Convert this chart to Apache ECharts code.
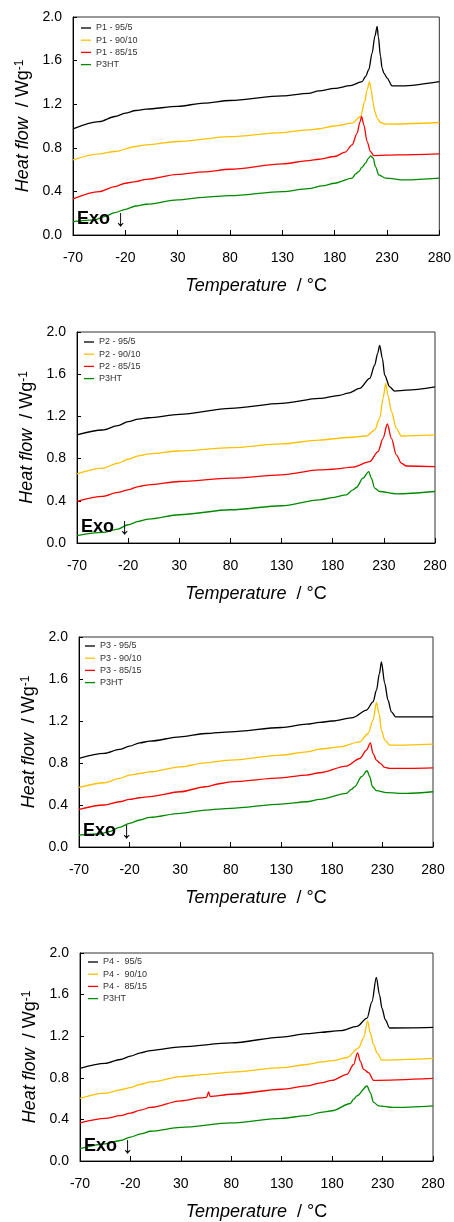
<!DOCTYPE html>
<html>
<head>
<meta charset="utf-8">
<script src="https://cdn.jsdelivr.net/npm/echarts@6/dist/echarts.min.js"></script>
<style>
  html, body { margin: 0; padding: 0; background: #fff; }
  #chart { width: 454px; height: 1222px; }
</style>
</head>
<body>
<div id="chart"></div>
<script>
// tick labels
const xTicks = [-70, -20, 30, 80, 130, 180, 230, 280]
const yTicks = [0, 0.4, 0.8, 1.2, 1.6, 2.0]

// DSC curves: [temperature °C, heat flow W/g]
const p1_95 = [[-70,0.974],[-45,1.04],[-30,1.087],[-20,1.118],[-10,1.142],[0,1.155],[30,1.18],[55,1.21],[80,1.234],[130,1.277],[155,1.30],[165,1.323],[180,1.345],[195,1.37],[206.3,1.408],[209.5,1.454],[212.6,1.516],[215.8,1.669],[218.4,1.822],[220.6,1.914],[221.7,1.822],[223.8,1.638],[225.3,1.531],[227,1.486],[230.1,1.44],[234.9,1.369],[244,1.369],[280,1.408]]
const p1_90 = [[-70,0.689],[-45,0.744],[-30,0.766],[-10,0.812],[0,0.827],[30,0.858],[80,0.903],[130,0.94],[155,0.965],[165,0.975],[180,1.0],[196.7,1.026],[204.7,1.087],[208.8,1.225],[211,1.332],[213.3,1.408],[214.9,1.332],[216.5,1.225],[218.4,1.133],[220.6,1.072],[223.8,1.032],[228.6,1.017],[280,1.032]]
const p1_85 = [[-70,0.331],[-45,0.398],[-30,0.444],[-20,0.475],[-10,0.49],[0,0.511],[30,0.557],[55,0.58],[80,0.603],[130,0.652],[155,0.683],[165,0.695],[180,0.72],[190,0.76],[196.7,0.827],[201.5,0.934],[204,1.03],[205.7,1.087],[207.9,1.01],[211,0.857],[214.3,0.765],[217.4,0.729],[240,0.735],[280,0.744]]
const p1_ht = [[-70,0.122],[-50,0.138],[-40,0.168],[-30,0.205],[-20,0.236],[-10,0.266],[0,0.282],[30,0.322],[55,0.346],[80,0.361],[130,0.398],[155,0.426],[168,0.45],[180,0.475],[196.7,0.521],[200,0.56],[203.1,0.582],[206,0.62],[209.5,0.659],[212,0.70],[214.3,0.726],[216.8,0.705],[219,0.628],[222.2,0.551],[228.6,0.521],[247.6,0.505],[280,0.521]]

const p2_95 = [[-70,1.024],[-45,1.071],[-30,1.112],[-20,1.15],[-10,1.175],[0,1.187],[30,1.219],[80,1.276],[130,1.323],[167,1.37],[186.8,1.40],[195,1.42],[206.4,1.465],[216.2,1.56],[221,1.685],[224,1.80],[225.9,1.874],[228.6,1.748],[230.8,1.59],[235.7,1.48],[240.6,1.44],[252,1.449],[280,1.48]]
const p2_90 = [[-70,0.655],[-45,0.709],[-30,0.756],[-20,0.794],[-10,0.825],[0,0.844],[30,0.872],[80,0.904],[130,0.939],[167,0.976],[195,1.0],[212.9,1.014],[221,1.07],[225.9,1.18],[229.2,1.37],[231.8,1.512],[234,1.40],[237.4,1.244],[242.2,1.087],[247.1,1.014],[280,1.024]]
const p2_85 = [[-70,0.394],[-45,0.441],[-30,0.479],[-20,0.504],[-10,0.535],[0,0.551],[30,0.583],[80,0.614],[130,0.646],[167,0.693],[180,0.699],[199.8,0.72],[216.2,0.772],[224.3,0.866],[229.2,0.992],[233.4,1.128],[237.4,0.992],[242.2,0.835],[247.1,0.756],[252,0.73],[280,0.724]]
const p2_ht = [[-70,0.069],[-45,0.10],[-30,0.132],[-20,0.173],[-10,0.205],[0,0.227],[30,0.268],[80,0.315],[130,0.353],[167,0.409],[180,0.43],[193.4,0.457],[199.8,0.504],[203.1,0.526],[209.6,0.614],[215.2,0.677],[217.8,0.614],[221,0.52],[225.9,0.488],[242.2,0.466],[280,0.488]]

const p3_95 = [[-70,0.843],[-45,0.891],[-30,0.929],[-20,0.96],[-10,0.992],[0,1.008],[30,1.049],[55,1.081],[80,1.097],[130,1.138],[155,1.17],[168,1.186],[180,1.20],[201,1.233],[214.2,1.303],[220.7,1.382],[224.1,1.493],[227,1.65],[229,1.762],[232.3,1.557],[235.5,1.398],[238.9,1.287],[243.1,1.239],[280,1.239]]
const p3_90 = [[-70,0.567],[-45,0.612],[-30,0.653],[-20,0.685],[-10,0.70],[0,0.716],[30,0.764],[55,0.802],[80,0.827],[130,0.875],[155,0.906],[168,0.932],[187.8,0.954],[207.6,1.001],[215.8,1.081],[220.7,1.208],[224.1,1.376],[226.7,1.271],[229,1.113],[232.3,1.018],[237.2,0.97],[280,0.98]]
const p3_85 = [[-70,0.358],[-45,0.40],[-30,0.431],[-20,0.453],[-10,0.469],[0,0.479],[30,0.526],[55,0.574],[70,0.605],[80,0.621],[130,0.659],[155,0.685],[168,0.707],[194.4,0.77],[207.6,0.843],[214.2,0.922],[218.1,0.992],[220.7,0.891],[224.1,0.827],[227.3,0.802],[232.3,0.758],[237.2,0.748],[280,0.754]]
const p3_ht = [[-70,0.114],[-50,0.124],[-40,0.146],[-30,0.187],[-20,0.225],[-10,0.257],[0,0.282],[30,0.32],[55,0.352],[80,0.368],[130,0.409],[155,0.431],[168,0.453],[194.4,0.51],[199.4,0.549],[202.6,0.574],[209.3,0.669],[214.8,0.726],[217.5,0.669],[220.1,0.574],[224.1,0.536],[234,0.517],[253.7,0.51],[280,0.526]]

const p4_95 = [[-70,0.89],[-45,0.938],[-30,0.976],[-20,1.008],[-10,1.04],[0,1.062],[30,1.097],[80,1.135],[130,1.192],[155,1.224],[168.6,1.237],[188.1,1.253],[204.6,1.294],[214.6,1.374],[219.5,1.532],[223.8,1.765],[227,1.596],[229.4,1.469],[232.7,1.358],[237,1.279],[280,1.285]]
const p4_90 = [[-70,0.601],[-45,0.652],[-30,0.684],[-20,0.706],[-10,0.738],[0,0.76],[30,0.811],[55,0.833],[80,0.855],[130,0.897],[155,0.928],[168.6,0.95],[180,0.965],[195,0.995],[206.2,1.088],[211.2,1.183],[215.2,1.348],[217.8,1.231],[221.1,1.119],[224.5,1.04],[229.4,0.97],[280,0.986]]
const p4_85 = [[-70,0.366],[-45,0.41],[-30,0.436],[-20,0.461],[-10,0.49],[0,0.515],[30,0.579],[50,0.607],[55.5,0.612],[57.5,0.665],[59,0.62],[80,0.642],[130,0.69],[155,0.722],[168.6,0.752],[180,0.775],[194.7,0.833],[201.3,0.928],[205.2,1.04],[207.9,0.96],[211.2,0.881],[216.1,0.849],[221.1,0.776],[280,0.795]]
const p4_ht = [[-70,0.118],[-45,0.165],[-30,0.197],[-20,0.229],[-10,0.261],[0,0.286],[30,0.324],[80,0.366],[130,0.41],[155,0.436],[168.6,0.468],[180,0.483],[198,0.553],[201.3,0.594],[204.6,0.626],[214.6,0.721],[217.8,0.658],[221.1,0.563],[226.1,0.531],[240.6,0.515],[280,0.531]]

const names = [
  ['P1 - 95/5', 'P1 - 90/10', 'P1 - 85/15', 'P3HT'],
  ['P2 - 95/5', 'P2 - 90/10', 'P2 - 85/15', 'P3HT'],
  ['P3 - 95/5', 'P3 - 90/10', 'P3 - 85/15', 'P3HT'],
  ['P4 -  95/5', 'P4 -  90/10', 'P4 -  85/15', 'P3HT']
]
const curves = [
  [p1_95, p1_90, p1_85, p1_ht],
  [p2_95, p2_90, p2_85, p2_ht],
  [p3_95, p3_90, p3_85, p3_ht],
  [p4_95, p4_90, p4_85, p4_ht]
]
const colors = ['#000000', '#FFC000', '#FF0000', '#008A00']

// plot boxes
const panels = [
  { left: 73, top: 17, width: 367, height: 218, legendLeft: 81, legendTop: 23 },
  { left: 77, top: 332, width: 358, height: 211, legendLeft: 84, legendTop: 337 },
  { left: 79, top: 637, width: 354, height: 210, legendLeft: 85, legendTop: 641 },
  { left: 80, top: 953, width: 353, height: 209, legendLeft: 88, legendTop: 957 }
]

const font = 'Liberation Sans, Arial, sans-serif'

let grid = [], xAxis = [], yAxis = [], legend = [], series = [], graphic = []

panels.forEach((p, i) => {
  grid.push({
    left: p.left, top: p.top, width: p.width, height: p.height,
    show: true, borderColor: '#333', borderWidth: 1, backgroundColor: 'transparent'
  })
  xAxis.push({
    gridIndex: i,
    type: 'value',
    min: -70,
    max: 280,
    axisLine: { show: true, onZero: false, lineStyle: { color: '#000', width: 1 } },
    axisTick: { show: true, inside: true, length: 5, customValues: xTicks, lineStyle: { color: '#000' } },
    axisLabel: { customValues: xTicks, margin: 16, fontSize: 14, color: '#000', fontFamily: font },
    splitLine: { show: false },
    name: '{i|Temperature}  / °C',
    nameLocation: 'middle',
    nameGap: 42,
    nameTextStyle: {
      fontSize: 18, color: '#000', fontFamily: font,
      rich: { i: { fontStyle: 'italic', fontSize: 18, fontFamily: font, color: '#000' } }
    }
  })
  yAxis.push({
    gridIndex: i,
    type: 'value',
    min: 0,
    max: 2,
    interval: 0.4,
    axisLine: { show: true, onZero: false, lineStyle: { color: '#000', width: 1 } },
    axisTick: { show: true, inside: true, length: 4, lineStyle: { color: '#000' } },
    axisLabel: { margin: 11, fontSize: 14, color: '#000', fontFamily: font, formatter: v => v.toFixed(1) },
    splitLine: { show: false },
    name: '{i|Heat flow}  / Wg{s|-1}',
    nameLocation: 'middle',
    nameGap: 40,
    nameTextStyle: {
      fontSize: 18, color: '#000', fontFamily: font,
      rich: {
        i: { fontStyle: 'italic', fontSize: 18, fontFamily: font, color: '#000' },
        s: { fontSize: 12, fontFamily: font, color: '#000', verticalAlign: 'top', padding: [0, 0, 6, 0] }
      }
    }
  })
  legend.push({
    data: names[i],
    orient: 'vertical',
    left: p.legendLeft,
    top: p.legendTop,
    icon: 'rect',
    itemWidth: 10,
    itemHeight: 1.3,
    itemGap: 2.2,
    padding: 0,
    selectedMode: false,
    textStyle: { fontSize: 9, lineHeight: 10, color: '#333', fontFamily: font }
  })
  curves[i].forEach((data, k) => {
    series.push({
      name: names[i][k],
      type: 'line',
      xAxisIndex: i,
      yAxisIndex: i,
      data: data,
      symbol: 'none',
      showSymbol: false,
      smooth: 0.3,
      smoothMonotone: 'x',
      lineStyle: { color: colors[k], width: 1.3 },
      itemStyle: { color: colors[k] },
      emphasis: { disabled: true },
      z: 2
    })
  })
  // "Exo" marker with arrow in the lower left corner
  graphic.push({
    type: 'text',
    left: p.left + 4,
    top: p.top + p.height - 25,
    style: { text: 'Exo', fill: '#000', font: 'bold 18px ' + font },
    z: 10
  })
  graphic.push({
    type: 'text',
    left: p.left + 42,
    top: p.top + p.height - 27,
    style: { text: '↓', fill: '#000', font: '23px ' + font },
    z: 10
  })
})

const chart = echarts.init(document.getElementById('chart'), null, { renderer: 'canvas' })
chart.setOption({
  animation: false,
  backgroundColor: '#fff',
  grid, xAxis, yAxis, legend, series, graphic
})
</script>
</body>
</html>
